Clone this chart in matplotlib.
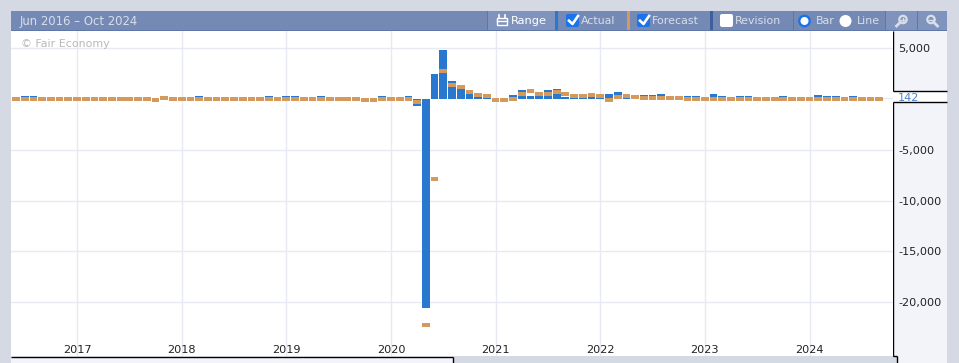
import matplotlib

matplotlib.use("Agg")
import matplotlib.pyplot as plt
from matplotlib.patches import Circle, FancyBboxPatch, Rectangle

plt.rcParams["font.family"] = ["DejaVu Sans"]

# release months, Jun 2016 to Sep 2024
actual = [
    38, 287, 255, 151, 156, 161, 178,
    156, 227, 235, 98, 211, 138, 222, 209, 156, -33, 261, 228,
    148, 200, 313, 103, 164, 223, 213, 157, 201, 134, 250, 155,
    312, 304, 20, 196, 263, 75, 224, 164, 130, 136, 128, 266,
    145, 225, 273, -701, -20537, 2509, 4800, 1763, 1371, 661, 638, 245,
    -140, 49, 379, 916, 266, 559, 850, 943, 235, 194, 531, 210,
    199, 467, 678, 431, 428, 390, 372, 528, 315, 263, 261, 263,
    223, 517, 311, 236, 253, 339, 209, 187, 187, 336, 150, 199,
    216, 353, 275, 303, 175, 272, 206, 114, 142,
]
forecast = [
    159, 180, 180, 180, 172, 173, 180,
    178, 175, 197, 180, 194, 182, 179, 183, 180, 80, 313, 200,
    190, 180, 205, 185, 192, 188, 195, 193, 191, 185, 190, 198,
    184, 165, 180, 175, 185, 175, 160, 164, 158, 145, 89, 183,
    164, 158, 175, -100, -22000, -7700, 3000, 1530, 1400, 850, 580, 469,
    50, 105, 182, 647, 978, 664, 700, 870, 728, 488, 450, 563,
    447, 125, 423, 490, 391, 318, 268, 250, 300, 255, 193, 200,
    200, 185, 205, 239, 179, 190, 225, 200, 170, 170, 180, 180,
    170, 187, 198, 212, 238, 182, 191, 176, 164,
]
year_ticks = [7, 19, 31, 43, 55, 67, 79, 91]
year_labels = ["2017", "2018", "2019", "2020", "2021", "2022", "2023", "2024"]
value_ticks = [5000, -5000, -10000, -15000, -20000]
value_labels = ["5,000", "-5,000", "-10,000", "-15,000", "-20,000"]
latest_label = "142"

WIDTH, HEIGHT = 959, 363
BLUE = "#2878d0"
ORANGE = "#d49a5c"
GRID = "#e8eaf3"
FRAME = "#d5d9e3"
PANEL = "#f3f4fa"
HEADER = "#7489b4"
HEADER_LIGHT = "#8093bc"
HEADER_TEXT = "#d8deea"
SEPARATOR = "#5f76a8"

fig = plt.figure(figsize=(WIDTH / 100, HEIGHT / 100), dpi=100, facecolor=FRAME)

# page furniture is laid out in pixels
ui = fig.add_axes([0, 0, 1, 1], zorder=0)
ui.set_xlim(0, WIDTH)
ui.set_ylim(HEIGHT, 0)
ui.axis("off")


def box(x0, y0, x1, y1, color, z=1):
    ui.add_patch(Rectangle((x0, y0), x1 - x0, y1 - y0, fc=color, ec="none", zorder=z))


def label(x, text, color=HEADER_TEXT, size=7.9):
    ui.text(x, 21, text, color=color, fontsize=size, va="center", ha="left", zorder=4)


def checkbox(x, checked):
    color = "#1a73e8" if checked else "white"
    ui.add_patch(FancyBboxPatch((x + 2, 16), 9, 9, boxstyle="round,pad=2", fc=color, ec="none", zorder=3))
    if checked:
        ui.plot([x + 3, x + 6.5, x + 12], [20.7, 24, 16], color="white", lw=1.9, zorder=4)


def magnifier(x, sign):
    # plus glass leans to the right, minus glass to the left
    lean = 1 if sign == "+" else -1
    ui.add_patch(Circle((x, 19.5), 3.7, fc="none", ec=HEADER_TEXT, lw=1.6, zorder=4))
    ui.plot([x - 2.7 * lean, x - 6.5 * lean], [22.3, 26], color=HEADER_TEXT, lw=2, zorder=4)
    ui.plot([x - 2, x + 2], [19.5, 19.5], color=HEADER_TEXT, lw=1, zorder=4)
    if sign == "+":
        ui.plot([x, x], [17.5, 21.5], color=HEADER_TEXT, lw=1, zorder=4)


box(11, 11, 947, 363, PANEL)
box(453, 356, 897, 363, FRAME, 2)
box(11, 11, 947, 30, HEADER, 2)
box(11, 30, 947, 31, SEPARATOR, 2)
box(487, 11, 555, 30, HEADER_LIGHT, 2)
box(885, 11, 947, 30, HEADER_LIGHT, 2)
for x in [487, 793, 885, 917]:
    box(x, 11, x + 1, 30, SEPARATOR, 3)
box(555, 11, 558, 30, BLUE, 3)
box(627, 11, 630, 30, ORANGE, 3)
box(710, 11, 713, 30, "#3f5f9c", 3)
box(893, 91, 947, 102, "white", 2)

for segment in [([893, 893], [31, 91]), ([893, 947], [91, 91]), ([893, 947], [102, 102]),
                ([893, 893], [102, 356]), ([893, 897], [356, 356]), ([897, 897], [356, 363]),
                ([11, 453], [356.5, 356.5]), ([453, 453], [356.5, 363])]:
    ui.plot(segment[0], segment[1], color="black", lw=1, zorder=3, solid_capstyle="butt")

label(20, "Jun 2016 – Oct 2024", size=8.4)

# range button
ui.add_patch(Rectangle((497, 18), 10, 7, fc="none", ec="white", lw=1, zorder=4))
ui.plot([497, 507], [20.5, 20.5], color="white", lw=1, zorder=4)
ui.plot([499, 499], [15, 18], color="white", lw=1.2, zorder=4)
ui.plot([505, 505], [15, 18], color="white", lw=1.2, zorder=4)
label(511, "Range", color="white", size=8.2)

checkbox(566, True)
label(581, "Actual")
checkbox(637, True)
label(652, "Forecast")
checkbox(720, False)
label(735, "Revision")

ui.add_patch(Circle((804.5, 21), 5.2, fc="white", ec="#1a73e8", lw=1.7, zorder=4))
label(816, "Bar")
ui.add_patch(Circle((845.5, 21), 6, fc="white", ec="none", zorder=4))
label(857, "Line")
magnifier(903, "+")
magnifier(931, "-")

# data axes, 0 sits on pixel row 99 and one month is 8.72 px
px_per_unit = 0.01016
px_per_month = 8.72
plot_left, plot_right, plot_top, plot_bottom = 11, 893, 31, 356
ax = fig.add_axes(
    [plot_left / WIDTH, 1 - plot_bottom / HEIGHT, (plot_right - plot_left) / WIDTH, (plot_bottom - plot_top) / HEIGHT],
    zorder=1,
)
ax.set_facecolor("white")
ax.set_xlim((plot_left - 16) / px_per_month, (plot_right - 16) / px_per_month)
ax.set_ylim(-(plot_bottom - 99) / px_per_unit, (99 - plot_top) / px_per_unit)
for spine in ax.spines.values():
    spine.set_visible(False)

ax.set_axisbelow(True)
ax.grid(True, color=GRID, lw=1)
months = list(range(len(actual)))
ax.bar(months, actual, width=0.89, color=BLUE, zorder=2)
marker_height = 4 / px_per_unit
ax.bar(months, [-marker_height] * len(months), bottom=forecast, width=0.89, color=ORANGE, zorder=3)
ax.hlines(actual[-1], months[-1], ax.get_xlim()[1], color=GRID, lw=1, zorder=1)

ax.set_xticks(year_ticks, year_labels)
ax.set_yticks(value_ticks, value_labels)
ax.yaxis.tick_right()
ax.tick_params(axis="x", length=0, direction="in", pad=-8.2, labelsize=8.1, colors="#222222")
ax.tick_params(axis="y", length=0, pad=3.6, labelsize=8.1, colors="#222222")

ax.text(1.0055, actual[-1], latest_label, transform=ax.get_yaxis_transform(), color="#4a86d0", fontsize=8.1,
        va="center", ha="left")
ax.text(21, 44, "© Fair Economy", transform=ui.transData, color="#b9b9b9", fontsize=7.9, va="center", ha="left", zorder=5)

fig.savefig("out.png", dpi=100, facecolor=fig.get_facecolor())
